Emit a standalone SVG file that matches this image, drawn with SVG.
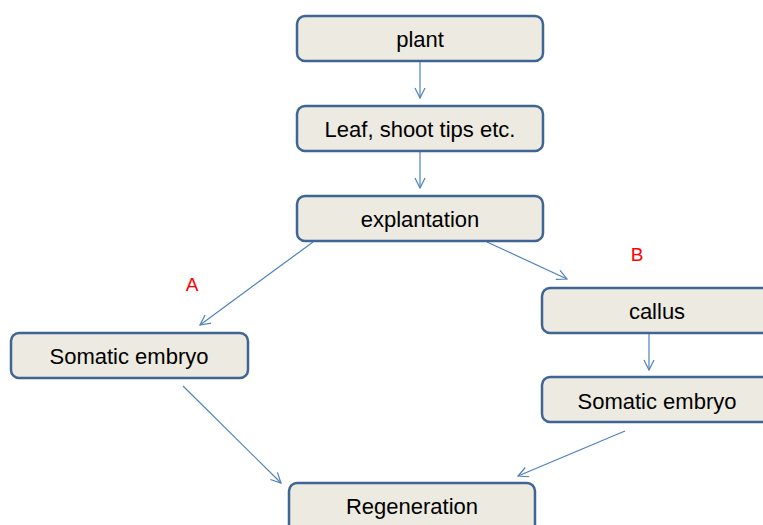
<svg xmlns="http://www.w3.org/2000/svg" width="763" height="525" viewBox="0 0 763 525">
<defs>
<style>
.box{fill:#eceae1;stroke:#3e6594;stroke-width:2.5}
.t{font-family:"Liberation Sans","Open Sans",sans-serif;font-size:22px;fill:#000;text-anchor:middle;dominant-baseline:central}
.lbl{font-family:"Liberation Sans",sans-serif;font-size:19px;fill:#ff0000;text-anchor:middle;dominant-baseline:central}
.c{stroke:#4f81bd;stroke-width:1.2;fill:none;marker-end:url(#ah)}
</style>
<marker id="ah" viewBox="0 0 12 12" refX="11" refY="6" markerWidth="12" markerHeight="12" markerUnits="userSpaceOnUse" orient="auto">
<path d="M1,1 L11,6 L1,11" fill="none" stroke="#4f81bd" stroke-width="1.2"/>
</marker>
</defs>
<rect width="763" height="525" fill="#fff"/>
<g id="connectors">
<line class="c" x1="420" y1="62" x2="420" y2="98"/>
<line class="c" x1="420" y1="152" x2="420" y2="188"/>
<line class="c" x1="313" y1="242" x2="200" y2="325"/>
<line class="c" x1="487" y1="242" x2="567" y2="279"/>
<line class="c" x1="649" y1="334" x2="649" y2="370"/>
<line class="c" x1="183" y1="386" x2="281" y2="483"/>
<line class="c" x1="625" y1="431" x2="518" y2="476"/>
</g>
<g id="plant"><rect class="box" x="297" y="16" width="246" height="45" rx="8"/><text class="t" x="420" y="39">plant</text></g>
<g id="leaf"><rect class="box" x="297" y="106" width="246" height="45" rx="8"/><text class="t" x="420" y="129">Leaf, shoot tips etc.</text></g>
<g id="explantation"><rect class="box" x="297" y="196" width="246" height="45" rx="8"/><text class="t" x="420" y="219">explantation</text></g>
<g id="somatic-left"><rect class="box" x="11" y="333" width="237" height="45" rx="8"/><text class="t" x="129" y="356">Somatic embryo</text></g>
<g id="callus"><rect class="box" x="542" y="288" width="232" height="45" rx="8"/><text class="t" x="657" y="311">callus</text></g>
<g id="somatic-right"><rect class="box" x="542" y="377" width="232" height="45" rx="8"/><text class="t" x="657" y="401">Somatic embryo</text></g>
<g id="regeneration"><rect class="box" x="289" y="483" width="246" height="50" rx="8"/><text class="t" x="412" y="506">Regeneration</text></g>
<g id="labels"><text class="lbl" x="192" y="284">A</text><text class="lbl" x="637" y="254">B</text></g>
</svg>
